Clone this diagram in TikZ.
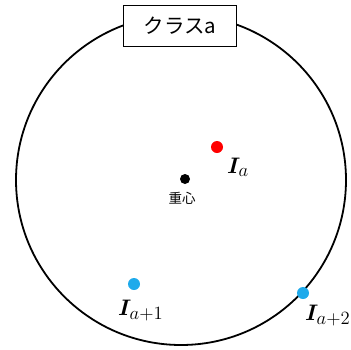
\documentclass[tikz,border=0pt]{standalone}
\usepackage{fontspec}
\usepackage{amsmath,bm,graphicx}
\newfontfamily\cjk{Noto Sans CJK JP}
\newcommand{\idxlab}[1]{\scalebox{1.3}{$\bm{I}_{\scalebox{1.2}{$\scriptstyle #1$}}$}}
\begin{document}
\begin{tikzpicture}[x=1pt,y=-1pt,
  dot/.style={circle,inner sep=0pt,minimum size=#1},
  lab/.style={inner sep=0pt,anchor=base west,font=\fontsize{17.28}{20}\selectfont}]
\useasboundingbox (0,0) rectangle (351,349);
\node[draw,line width=1.8pt,circle,minimum size=330pt,inner sep=0pt] (cls) at (181,180) {};
\node[draw,line width=1.5pt,fill=white,minimum width=113pt,minimum height=41pt,inner sep=0pt,font=\cjk\fontsize{20.5}{24}\selectfont] (title) at (180,26) {クラスa};
\node[dot=12pt,fill=red] (ia) at (217,147) {};
\node[dot=10pt,fill=black] (g) at (185,179) {};
\node[inner sep=0pt,font=\cjk\fontsize{13.5}{16}\selectfont] (glab) at (182,198) {重心};
\node[lab] (ialab) at (227,173) {\idxlab{a}};
\node[dot=12pt,fill={rgb,255:red,30;green,170;blue,235}] (ib) at (134,284) {};
\node[lab] (iblab) at (118,315) {\idxlab{a+1}};
\node[dot=12pt,fill={rgb,255:red,30;green,170;blue,235}] (ic) at (303,293) {};
\node[lab] (iclab) at (305,320) {\idxlab{a+2}};
\end{tikzpicture}
\end{document}
